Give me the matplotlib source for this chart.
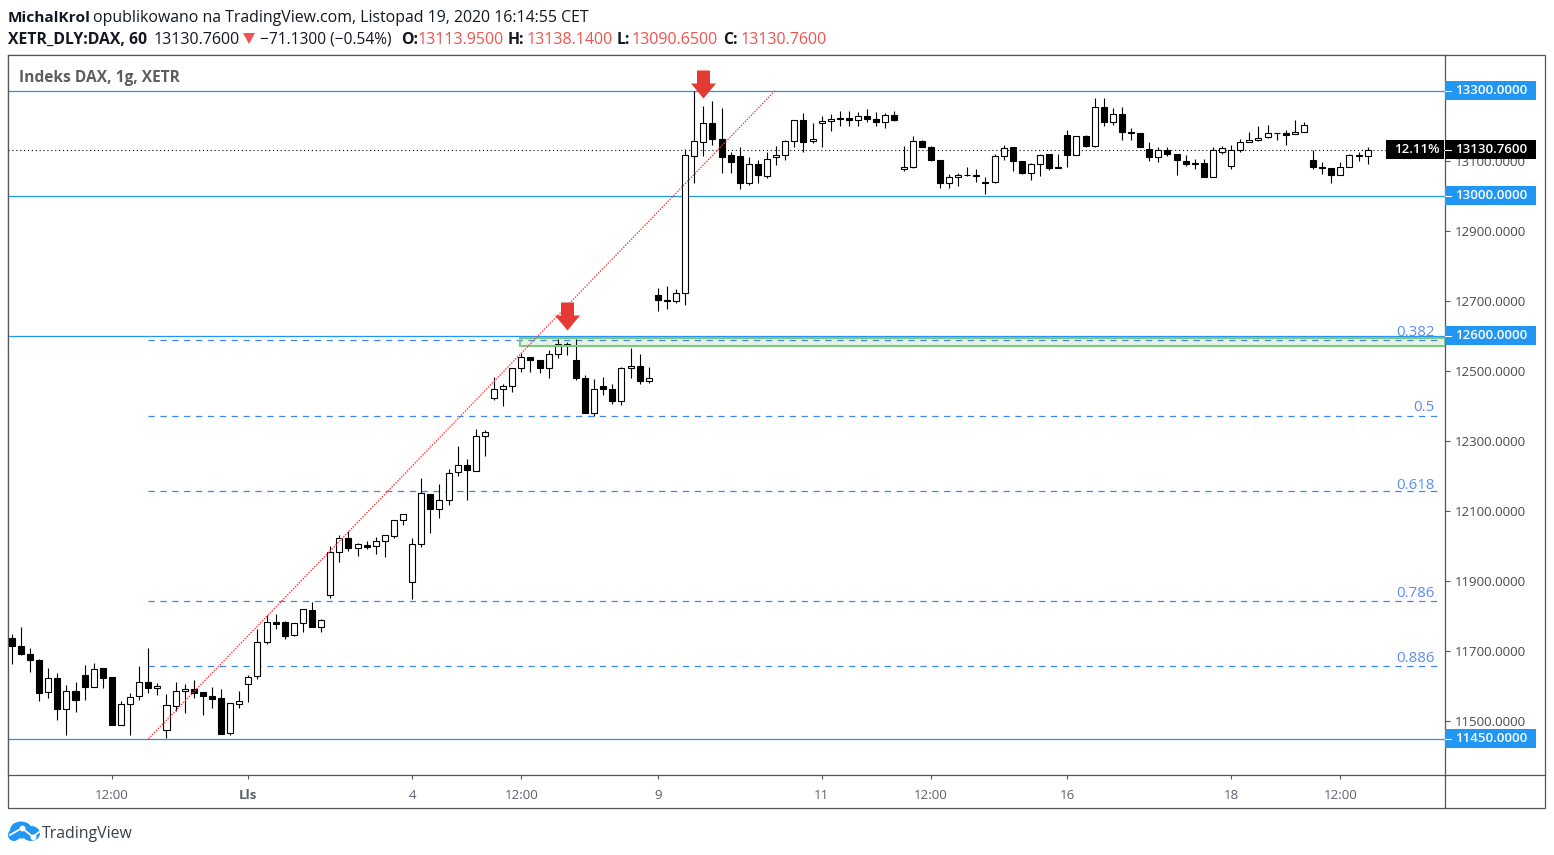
#!/usr/bin/env python
# Hourly DAX candles with TradingView style levels and fib lines.

import matplotlib
matplotlib.use("Agg")
import matplotlib.pyplot as plt
from matplotlib.patches import Ellipse, Rectangle
from matplotlib.path import Path
import numpy as np

opens = [11739, 11716, 11693, 11676, 11583, 11624, 11535, 11587, 11633, 11599,
         11652, 11627, 11489, 11549, 11572, 11612, 11595, 11475, 11545, 11586,
         11592, 11584, 11573, 11567, 11466, 11549, 11606, 11629, 11726, 11783,
         11783, 11746, 11780, 11818, 11769, 11860, 11983, 12023, 11995, 12003,
         12000, 12015, 12029, 12075, 11898, 12006, 12149, 12106, 12132, 12212,
         12232, 12215, 12315, 12422, 12449, 12457, 12509, 12540, 12532, 12509,
         12549, 12578, 12532, 12481, 12380, 12458, 12449, 12415, 12509, 12515,
         12472, 12716, 12703, 12700, 12723, 13114, 13152, 13206, 13163, 13115,
         13112, 13036, 13089, 13056, 13109, 13117, 13155, 13217, 13155, 13206,
         13212, 13223, 13223, 13217, 13226, 13220, 13209, 13229, 13075, 13083,
         13155, 13140, 13103, 13035, 13052, 13060, 13058, 13038, 13038, 13112,
         13138, 13098, 13066, 13089, 13118, 13083, 13172, 13115, 13169, 13143,
         13252, 13209, 13232, 13183, 13178, 13132, 13109, 13129, 13120, 13100,
         13092, 13092, 13052, 13126, 13086, 13129, 13152, 13160, 13166, 13180,
         13178, 13175, 13183, 13103, 13083, 13078, 13060, 13083, 13115, 13113.95]
closes = [11714, 11691, 11674, 11582, 11623, 11534, 11586, 11562, 11599, 11649,
          11625, 11491, 11549, 11569, 11612, 11594, 11600, 11546, 11586, 11592,
          11580, 11571, 11565, 11465, 11552, 11558, 11626, 11726, 11783, 11779,
          11745, 11780, 11820, 11768, 11789, 11983, 12023, 11994, 12006, 11997,
          12015, 12032, 12075, 12092, 12006, 12152, 12105, 12132, 12209, 12232,
          12217, 12315, 12326, 12449, 12458, 12509, 12540, 12531, 12508, 12549,
          12578, 12573, 12480, 12380, 12449, 12449, 12414, 12509, 12515, 12471,
          12481, 12702, 12700, 12723, 13115, 13155, 13206, 13162, 13111, 13097,
          13036, 13089, 13059, 13106, 13117, 13155, 13217, 13154, 13163, 13212,
          13220, 13220, 13217, 13226, 13220, 13209, 13229, 13217, 13083, 13155,
          13140, 13103, 13035, 13052, 13060, 13058, 13055, 13037, 13112, 13135,
          13098, 13066, 13089, 13115, 13080, 13078, 13115, 13169, 13143, 13252,
          13209, 13232, 13183, 13178, 13140, 13109, 13129, 13120, 13103, 13089,
          13089, 13052, 13129, 13135, 13129, 13152, 13160, 13166, 13180, 13178,
          13173, 13183, 13203, 13083, 13078, 13060, 13083, 13115, 13112, 13130.76]
highs = [11750, 11769, 11709, 11678, 11652, 11638, 11604, 11612, 11661, 11667,
         11652, 11627, 11558, 11580, 11658, 11709, 11609, 11578, 11612, 11607,
         11619, 11584, 11598, 11593, 11552, 11586, 11633, 11763, 11803, 11807,
         11786, 11782, 11820, 11841, 11792, 11999, 12032, 12044, 12009, 12016,
         12027, 12032, 12075, 12092, 12023, 12195, 12149, 12176, 12220, 12287,
         12249, 12333, 12330, 12483, 12463, 12509, 12552, 12540, 12532, 12561,
         12592, 12583, 12592, 12489, 12476, 12483, 12463, 12512, 12566, 12549,
         12512, 12737, 12741, 12733, 13133, 13299, 13257, 13269, 13249, 13126,
         13140, 13109, 13103, 13126, 13143, 13160, 13217, 13237, 13206, 13226,
         13232, 13243, 13243, 13240, 13246, 13240, 13235, 13243, 13143, 13169,
         13160, 13143, 13103, 13063, 13066, 13083, 13075, 13052, 13118, 13146,
         13138, 13098, 13092, 13120, 13118, 13118, 13186, 13169, 13172, 13278,
         13278, 13249, 13252, 13192, 13180, 13152, 13138, 13140, 13120, 13115,
         13106, 13106, 13138, 13143, 13146, 13163, 13183, 13200, 13203, 13180,
         13186, 13215, 13209, 13129, 13095, 13078, 13095, 13118, 13126, 13138.14]
lows = [11665, 11688, 11642, 11557, 11568, 11505, 11460, 11528, 11562, 11597,
        11594, 11491, 11489, 11460, 11562, 11580, 11574, 11454, 11529, 11525,
        11568, 11517, 11539, 11465, 11462, 11537, 11554, 11622, 11722, 11765,
        11734, 11743, 11754, 11768, 11754, 11851, 11954, 11985, 11971, 11993,
        11977, 11968, 12022, 12059, 11848, 11997, 12037, 12079, 12117, 12200,
        12131, 12215, 12257, 12417, 12400, 12440, 12497, 12497, 12494, 12480,
        12537, 12545, 12474, 12380, 12371, 12431, 12405, 12402, 12480, 12462,
        12465, 12671, 12678, 12693, 12688, 13036, 13114, 13145, 13065, 13065,
        13019, 13031, 13036, 13051, 13088, 13102, 13139, 13125, 13151, 13139,
        13185, 13199, 13199, 13199, 13211, 13199, 13194, 13214, 13069, 13080,
        13138, 13100, 13022, 13022, 13028, 13055, 13040, 13005, 13037, 13103,
        13071, 13063, 13046, 13055, 13072, 13078, 13083, 13115, 13138, 13140,
        13200, 13203, 13160, 13158, 13138, 13100, 13095, 13112, 13060, 13085,
        13075, 13052, 13052, 13118, 13075, 13126, 13152, 13155, 13166, 13160,
        13146, 13175, 13183, 13075, 13063, 13035, 13060, 13083, 13100, 13090.65]

level_prices = [13300, 13000, 12600, 11450]
fib_ratios = ["0.382", "0.5", "0.618", "0.786", "0.886"]
fib_prices = [12589, 12371, 12156, 11844, 11659]
fib_start = 15
fib_end = 157

trend_x = [15, 83.9]
trend_y = [11450, 13300]
zone_start = 55.85
zone_top = 12595
zone_bottom = 12570
arrow_x = [76, 61]
arrow_y = [13279, 12616]
last_price = 13130.76

price_ticks = [11500, 11700, 11900, 12100, 12300, 12500, 12700, 12900, 13100]
time_ticks = [11, 26, 44, 56, 71, 89, 101, 116, 134, 146]
time_labels = ["12:00", "Lls", "4", "12:00", "9", "11", "12:00", "16", "18", "12:00"]

W, H = 1554, 855
plt.rcParams["font.family"] = ["Open Sans", "DejaVu Sans"]

axis_color = "#555555"
text_color = "#131722"
level_color = "#2196f3"
fib_color = "#3d85f0"
fib_text = "#5b8def"
red = "#ef5350"

fig = plt.figure(figsize=(W / 100, H / 100), dpi=100, facecolor="white")

# main pane, placed by its pixel box
pane_left, pane_right, pane_top, pane_bottom = 8, 1445, 55, 775
ax = fig.add_axes([pane_left / W, 1 - pane_bottom / H,
                   (pane_right - pane_left) / W, (pane_bottom - pane_top) / H])
ax.set_xlim(-0.418, 157.5)
ax.set_ylim(11347, 13401.4)

idx = np.arange(len(opens))
o = np.array(opens)
c = np.array(closes)
up = c >= o
ax.vlines(idx, lows, highs, color="black", linewidth=0.8, zorder=3)
ax.bar(idx, np.abs(c - o), bottom=np.minimum(o, c), width=0.66,
       color=["white" if u else "black" for u in up],
       edgecolor="black", linewidth=0.8, zorder=4)

for p in level_prices:
    ax.axhline(p, color=level_color, linewidth=0.9, zorder=2)
ax.axhline(last_price, color="black", linewidth=0.8, linestyle=(0, (1, 2.5)), zorder=2)
ax.hlines(fib_prices, fib_start, fib_end, color=fib_color, linewidth=0.9,
          linestyle=(0, (5, 4.5)), zorder=2)

x_right = 1 - 10 / (pane_right - pane_left)
fib_offsets = [7.5, 8.5, 6, 7, 7.5]
for label, p, off in zip(fib_ratios, fib_prices, fib_offsets):
    ax.annotate(label, xy=(x_right, p), xycoords=ax.get_yaxis_transform(),
                xytext=(0, off * 0.72), textcoords="offset points",
                ha="right", va="center", color=fib_text, fontsize=10.8, zorder=6)

ax.add_patch(Rectangle((zone_start, zone_bottom), 157.5 - zone_start, zone_top - zone_bottom,
                       facecolor="#4caf50", alpha=0.14, edgecolor="none", zorder=5))
ax.add_patch(Rectangle((zone_start, zone_bottom), 157.5 - zone_start, zone_top - zone_bottom,
                       fill=False, edgecolor="#81c784", linewidth=1.5, zorder=5, clip_on=True))

ax.plot(trend_x, trend_y, color="#ff3b3b", linewidth=1.0, linestyle=(0, (1, 1)), zorder=5)

arrow = Path([(0, 0), (12.5, 15), (6.5, 15), (6.5, 28), (-6.5, 28), (-6.5, 15), (-12.5, 15), (0, 0)], closed=True)
ax.plot(arrow_x, arrow_y, linestyle="none", marker=arrow, markersize=40.3,
        markerfacecolor="#e53935", markeredgecolor="none", zorder=7, clip_on=False)

ax.yaxis.tick_right()
ax.set_yticks(price_ticks)
ax.set_yticklabels(["%.4f" % p for p in price_ticks])
ax.tick_params(axis="y", length=3.8, width=0.8, color=axis_color, labelcolor="#4a4a4a",
               labelsize=9.5, pad=3.2)
ax.set_xticks(time_ticks)
ax.set_xticklabels(time_labels)
ax.tick_params(axis="x", length=3.2, width=0.8, color=axis_color, labelcolor="#5d606b",
               labelsize=9.6, pad=7.2)
ax.get_xticklabels()[1].set_fontweight("bold")
for s in ax.spines.values():
    s.set_color(axis_color)
    s.set_linewidth(0.9)

# highlighted price labels on the scale
scale = ax.get_yaxis_transform()
box_w = (1536 - pane_right) / (pane_right - pane_left)
text_x = 1 + (1455.5 - pane_right) / (pane_right - pane_left)
tick_w = (1451 - pane_right) / (pane_right - pane_left)
for p, col in [(x, level_color) for x in level_prices] + [(last_price, "black")]:
    ax.add_patch(Rectangle((1, p - 27), box_w, 54, transform=scale, facecolor=col,
                           edgecolor="none", clip_on=False, zorder=8))
    ax.plot([1, 1 + tick_w], [p, p], transform=scale, color="white", linewidth=0.8,
            clip_on=False, zorder=9)
    ax.text(text_x, p, "%.4f" % p, transform=scale, color="white", fontsize=9.5,
            fontweight="semibold", ha="left", va="center", zorder=9)
ax.add_patch(Rectangle((1 - 59.5 / (pane_right - pane_left), last_price - 27),
                       58.5 / (pane_right - pane_left), 54, transform=scale,
                       facecolor="black", edgecolor="none", clip_on=False, zorder=8))
ax.text(1 - 5 / (pane_right - pane_left), last_price, "12.11%", transform=scale, color="white",
        fontsize=9.5, fontweight="semibold", ha="right", va="center", zorder=9)

# page furniture in pixel coordinates
page = fig.add_axes([0, 0, 1, 1], zorder=-1)
page.set_xlim(0, W)
page.set_ylim(H, 0)
page.axis("off")
page.add_patch(Rectangle((8, 55), 1537, 753, fill=False, edgecolor=axis_color, linewidth=0.9))
page.plot([1445, 1445], [775, 808], color=axis_color, linewidth=0.9)
page.plot([1445, 1545], [775, 775], color=axis_color, linewidth=0.9)

top = fig.add_axes([0, 0, 1, 1], zorder=5)
top.set_xlim(0, W)
top.set_ylim(H, 0)
top.axis("off")
top.patch.set_alpha(0)


def head(x, y, s, color=text_color, weight="normal", size=11.3):
    top.text(x, y, s, color=color, fontweight=weight, fontsize=size, ha="left", va="center")


head(8, 17.5, "MichalKrol", weight="bold", size=11.1)
head(93, 17.5, "opublikowano na TradingView.com, Listopad 19, 2020 16:14:55 CET", size=11.4)
head(8, 39.5, "XETR_DLY:DAX, 60", weight="bold")
head(154, 39.5, "13130.7600", size=11.5)
top.fill([243, 255, 249], [33, 33, 44], color=red, linewidth=0)
head(260, 39.5, "−71.1300 (−0.54%)", size=11.2)
for x_lab, lab, x_val, val in [(401, "O:", 418, "13113.9500"), (508, "H:", 527, "13138.1400"),
                               (617, "L:", 632, "13090.6500"), (723, "C:", 741, "13130.7600")]:
    head(x_lab, 39.5, lab, weight="bold")
    head(x_val, 39.5, val, color=red, size=11.5)
head(19, 78, "Indeks DAX, 1g, XETR", color="#5d5d5d", weight="bold", size=11.2)

# logo
top.add_patch(Ellipse((21, 830), 22, 17, color=level_color, linewidth=0))
top.add_patch(Ellipse((31, 833.5), 18, 15, color=level_color, linewidth=0))
top.add_patch(Ellipse((14, 835), 12, 12, color=level_color, linewidth=0))
top.plot([10, 22, 33, 39], [835, 828, 837, 832], color="white", linewidth=1.3)
top.plot([22, 33], [828, 837], linestyle="none", marker="o", markersize=3.2, color="white")
top.text(42, 834, "TradingView", color="#3a3e4a", fontsize=11.4, ha="left", va="center")

fig.savefig("out.png", dpi=100)
